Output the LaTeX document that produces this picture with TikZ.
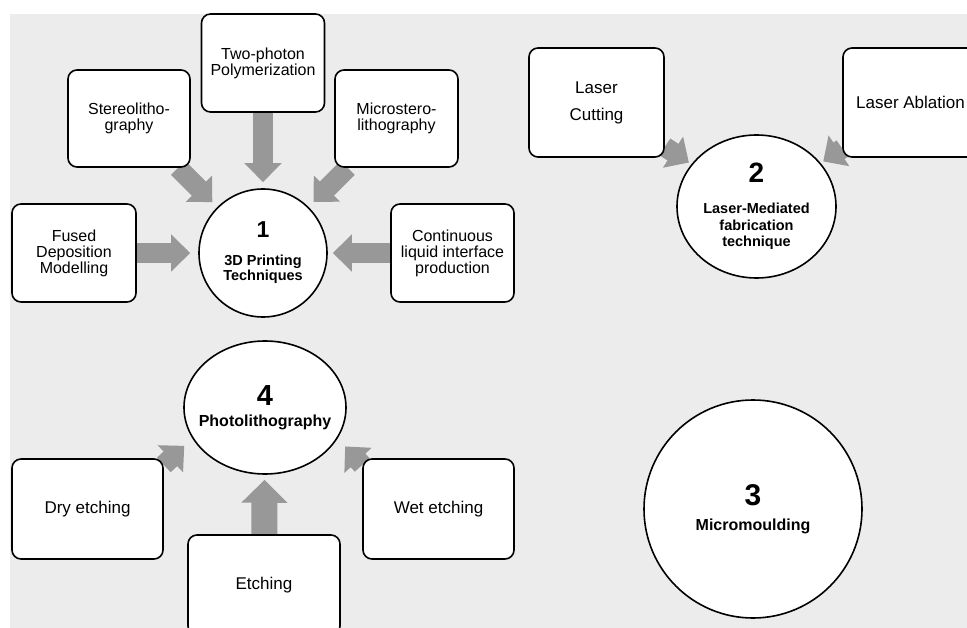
\documentclass[tikz,border=0pt]{standalone}
\usepackage{fontspec}
\setmainfont{Liberation Sans}
\usetikzlibrary{positioning,arrows.meta,shapes.geometric,backgrounds}
\definecolor{Canvas}{RGB}{236,236,236}
\definecolor{Shaft}{RGB}{152,152,152}

\begin{document}
\begin{tikzpicture}[x=1pt,y=-1pt,
    method/.style={draw,line width=1.6pt,rounded corners=9pt,fill=white,align=center,inner sep=0pt,
      font=\fontsize{16}{16}\selectfont},
    hub/.style={draw,ellipse,line width=1.6pt,fill=white,align=center,inner sep=0pt,
      font=\bfseries\fontsize{14.5}{15}\selectfont},
    flow/.style={Shaft,line width=20pt,-{Triangle[width=36pt,length=19pt]}}]
        \useasboundingbox (0,0) rectangle (967,628);
        \clip (0,0) rectangle (967,628);

        % 3D printing group
        \node[method,minimum width=123pt,minimum height=98pt] (tpp) at (263,63) {Two-photon\\Polymerization};
        \node[method,minimum width=122pt,minimum height=97pt] (sla) at (129,118.5) {Stereolitho-\\graphy};
        \node[method,minimum width=123pt,minimum height=97pt] (msl) at (396.5,118.5) {Microstero-\\lithography};
        \node[method,minimum width=124pt,minimum height=98pt] (fdm) at (74,253) {Fused\\Deposition\\Modelling};
        \node[method,minimum width=123pt,minimum height=98pt] (cli) at (452.5,253) {Continuous\\liquid interface\\production};
        \node[hub,minimum width=128pt,minimum height=128pt] (hub1) at (263,253)
          {{\fontsize{23}{23}\selectfont 1}\\[13pt]3D Printing\\Techniques};

        % laser group
        \node[method,minimum width=135pt,minimum height=109pt,font=\fontsize{17}{27}\selectfont] (lcut) at (596.5,102.5) {Laser\\Cutting};
        \node[method,minimum width=135pt,minimum height=109pt,font=\fontsize{17}{17}\selectfont] (labl) at (910.5,102.5) {Laser Ablation};
        \node[hub,minimum width=159pt,minimum height=143pt,font=\bfseries\fontsize{14.5}{16.7}\selectfont] (hub2) at (756.5,206.5)
          {{\fontsize{28}{28}\selectfont 2}\\[14pt]Laser-Mediated\\fabrication\\technique};

        % micromoulding
        \node[hub,minimum size=218pt,font=\bfseries\fontsize{16}{16}\selectfont] (hub3) at (753,509)
          {{\fontsize{30}{30}\selectfont 3}\\[9pt]Micromoulding};

        % photolithography group
        \node[hub,inner xsep=-20pt,minimum width=162pt,minimum height=133pt,font=\bfseries\fontsize{16}{16}\selectfont] (hub4) at (265,407.5)
          {{\fontsize{29}{29}\selectfont 4}\\[5pt]Photolithography};
        \node[method,minimum width=151pt,minimum height=100pt,font=\fontsize{17}{17}\selectfont] (dry) at (87.5,509) {Dry etching};
        \node[method,minimum width=151pt,minimum height=100pt,font=\fontsize{17}{17}\selectfont] (wet) at (438.5,509) {Wet etching};
        \node[method,minimum width=152pt,minimum height=100pt,font=\fontsize{17}{17}\selectfont] (etch) at (264,585) {Etching};

        \begin{scope}[on background layer]
          \fill[Canvas] (10,14) rectangle (967,628);
          \draw[flow,shorten >=6pt] (tpp) -- (hub1);
          \draw[flow,shorten >=7pt] (sla) -- (hub1);
          \draw[flow,shorten >=7pt] (msl) -- (hub1);
          \draw[flow,shorten >=8pt] (fdm) -- (hub1);
          \draw[flow,shorten >=5pt] (cli) -- (hub1);
          \draw[flow,shorten >=3pt] (lcut) -- (hub2);
          \draw[flow,shorten >=3pt] (labl) -- (hub2);
          \draw[flow,shorten >=11pt] (dry.30) -- (hub4.203);
          \draw[flow,shorten >=11pt] (wet.150) -- (hub4.-23);
          \draw[flow,line width=26pt,-{Triangle[width=45pt,length=23pt]},shorten >=5pt] (etch) -- (hub4);
        \end{scope}
      \end{tikzpicture}
\end{document}
